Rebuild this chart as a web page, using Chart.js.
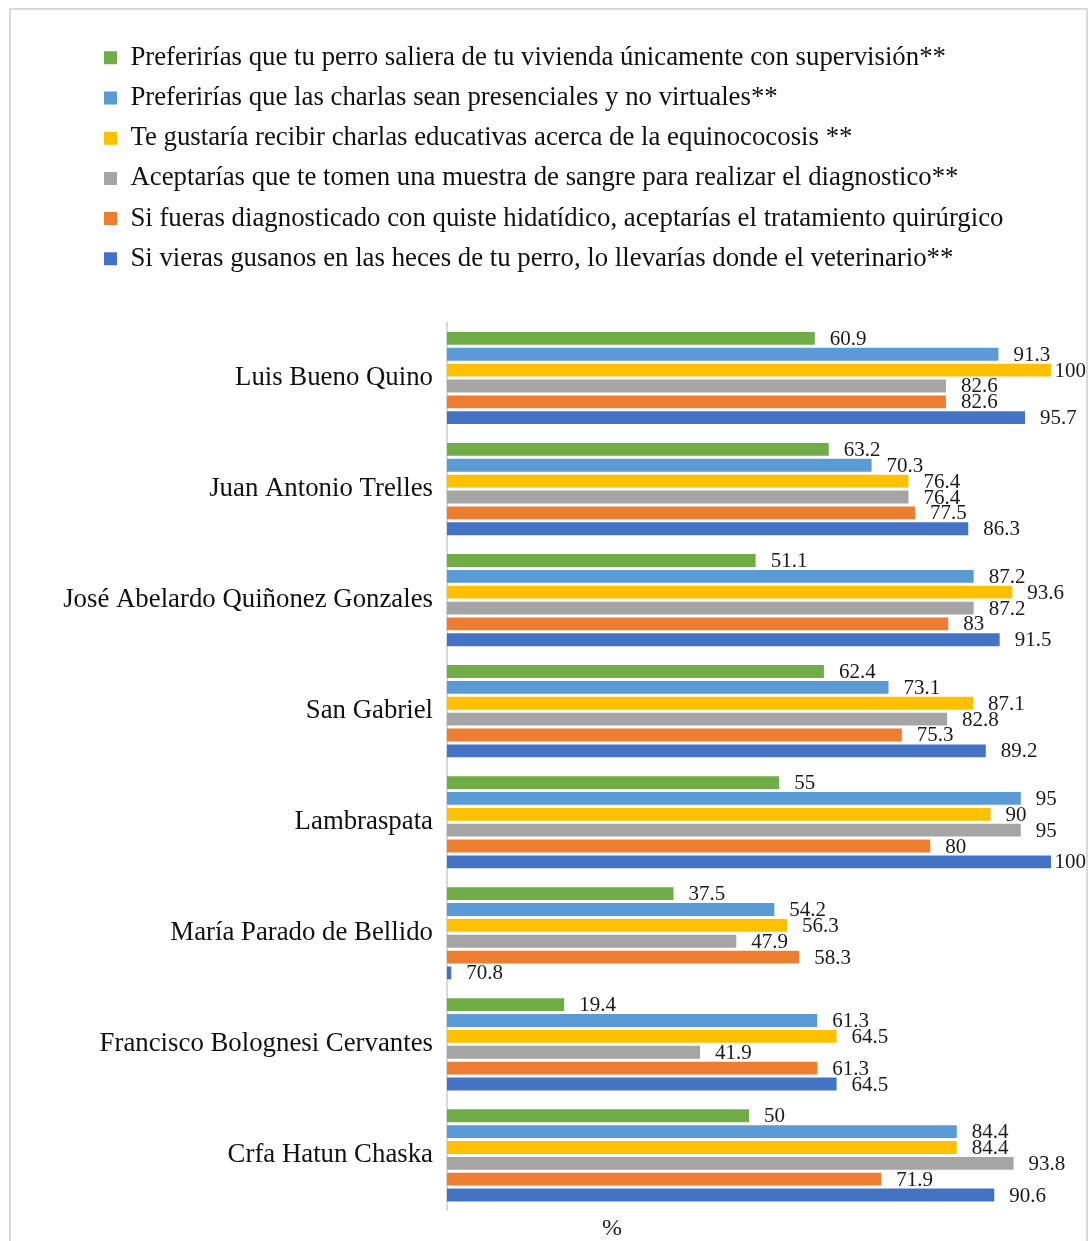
<!DOCTYPE html>
<html>
<head>
<meta charset="utf-8">
<script src="https://cdn.jsdelivr.net/npm/chart.js@4/dist/chart.umd.min.js"></script>
<style>
  html, body { margin: 0; padding: 0; background: #fff; }
  #wrap { position: relative; width: 1092px; height: 1241px; overflow: hidden; }
  #frame { position: absolute; left: 9px; top: 8px; width: 1079px; height: 1300px; border: 2px solid #d9d9d9; box-sizing: border-box; }
  #c { position: absolute; left: 0; top: 0; }
</style>
</head>
<body>
<div id="wrap">
  <div id="frame"></div>
  <canvas id="c" width="1092" height="1241"></canvas>
</div>
<script>
const categories = [
  'Luis Bueno Quino',
  'Juan Antonio Trelles',
  'José Abelardo Quiñonez Gonzales',
  'San Gabriel',
  'Lambraspata',
  'María Parado de Bellido',
  'Francisco Bolognesi Cervantes',
  'Crfa Hatun Chaska'
];
const seriesNames = [
  'Preferirías que tu perro saliera de tu vivienda únicamente con supervisión**',
  'Preferirías que las charlas sean presenciales y no virtuales**',
  'Te gustaría recibir charlas educativas acerca de la equinococosis **',
  'Aceptarías que te tomen una muestra de sangre para realizar el diagnostico**',
  'Si fueras diagnosticado con quiste hidatídico, aceptarías el tratamiento quirúrgico',
  'Si vieras gusanos en las heces de tu perro, lo llevarías donde el veterinario**'
];
const supervision = [60.9, 63.2, 51.1, 62.4, 55, 37.5, 19.4, 50];
const presenciales = [91.3, 70.3, 87.2, 73.1, 95, 54.2, 61.3, 84.4];
const charlas = [100, 76.4, 93.6, 87.1, 90, 56.3, 64.5, 84.4];
const muestra = [82.6, 76.4, 87.2, 82.8, 95, 47.9, 41.9, 93.8];
const quirurgico = [82.6, 77.5, 83, 75.3, 80, 58.3, 61.3, 71.9];
// bar lengths as drawn (the María Parado de Bellido bar is drawn almost empty)
const veterinario = [95.7, 86.3, 91.5, 89.2, 100, 0.708, 64.5, 90.6];
// label texts as printed for that series
const veterinarioLabels = ['95.7', '86.3', '91.5', '89.2', '100', '70.8', '64.5', '90.6'];
const xTicks = [0, 100];
const colors = ['#70AD47', '#5B9BD5', '#FFC000', '#A5A5A5', '#ED7D31', '#4472C4'];

const seriesValues = [supervision, presenciales, charlas, muestra, quirurgico, veterinario];
const seriesLabels = [null, null, null, null, null, veterinarioLabels];

const FONT = '"Liberation Serif", "Times New Roman", serif';
const BIG = 26.8;

const datasets = seriesValues.map((vals, i) => ({
  label: seriesNames[i],
  data: vals,
  backgroundColor: colors[i],
  borderWidth: 0,
  categoryPercentage: 0.857,
  barPercentage: 0.81
}));

const valueLabels = {
  id: 'valueLabels',
  afterDatasetsDraw(chart) {
    const ctx = chart.ctx;
    ctx.save();
    ctx.font = '21px ' + FONT;
    ctx.fillStyle = '#1a1a1a';
    ctx.textAlign = 'left';
    ctx.textBaseline = 'middle';
    const limit = chart.width - 6;
    chart.data.datasets.forEach((ds, di) => {
      const meta = chart.getDatasetMeta(di);
      meta.data.forEach((el, j) => {
        const txt = seriesLabels[di] ? seriesLabels[di][j] : String(ds.data[j]);
        const w = ctx.measureText(txt).width;
        const x = Math.min(el.x + 15, limit - w);
        ctx.fillText(txt, x, el.y + 1);
      });
    });
    ctx.restore();
  }
};

const axisUnit = {
  id: 'axisUnit',
  afterDraw(chart) {
    const ctx = chart.ctx;
    ctx.save();
    ctx.font = '24px ' + FONT;
    ctx.fillStyle = '#1a1a1a';
    ctx.textAlign = 'center';
    ctx.textBaseline = 'middle';
    ctx.fillText('%', 612, 1229);
    ctx.restore();
  }
};

// shift the legend block so its items start where the reference puts them
const legendShift = {
  id: 'legendShift',
  beforeDraw(chart) {
    if (chart.legend) { chart.legend.left = 90.6; }
  }
};

new Chart(document.getElementById('c'), {
  type: 'bar',
  data: { labels: categories, datasets },
  options: {
    indexAxis: 'y',
    responsive: false,
    animation: false,
    layout: { padding: { top: 31, left: 40, right: 41, bottom: 22 } },
    plugins: {
      legend: {
        position: 'top',
        align: 'start',
        labels: {
          boxWidth: 13,
          boxHeight: 13,
          padding: 13.4,
          color: '#111',
          font: { family: FONT, size: BIG }
        }
      },
      tooltip: { enabled: false }
    },
    scales: {
      x: {
        position: 'top',
        min: xTicks[0],
        max: xTicks[1],
        grid: { display: false },
        border: { display: false },
        ticks: { display: false },
        afterFit(scale) { scale.height = 40.3; }
      },
      y: {
        grid: { display: false, drawTicks: false },
        border: { display: true, color: '#d9d9d9', width: 2 },
        ticks: { color: '#111', padding: 14, font: { family: FONT, size: BIG } },
        afterFit(scale) { scale.width = 407; }
      }
    }
  },
  plugins: [valueLabels, axisUnit, legendShift]
});
</script>
</body>
</html>
